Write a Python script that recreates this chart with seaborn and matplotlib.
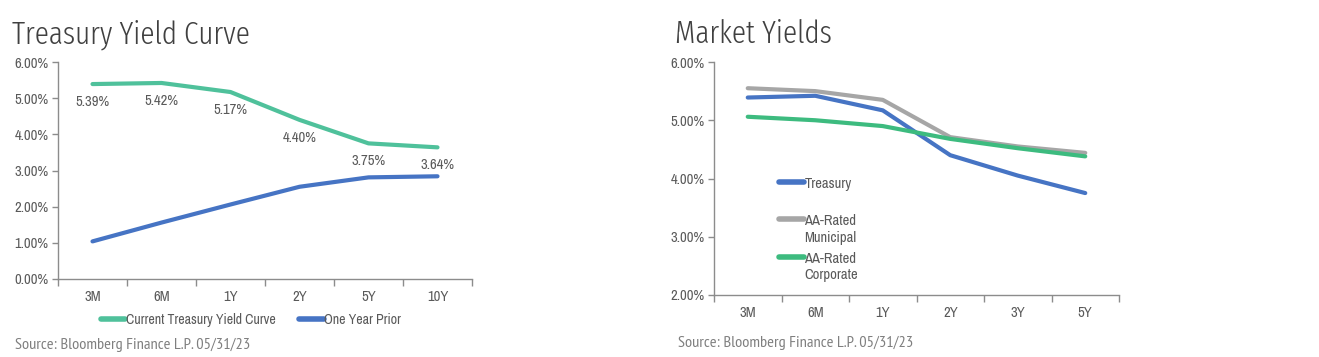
import matplotlib
matplotlib.use("Agg")
import matplotlib.pyplot as plt
import seaborn as sns
import pandas as pd
from matplotlib.ticker import FuncFormatter, FixedLocator

# ---- data ----
tenors_left = ["3M", "6M", "1Y", "2Y", "5Y", "10Y"]
current_curve = [5.39, 5.42, 5.17, 4.40, 3.75, 3.64]
one_year_prior = [1.04, 1.56, 2.06, 2.55, 2.81, 2.84]

tenors_right = ["3M", "6M", "1Y", "2Y", "3Y", "5Y"]
treasury = [5.39, 5.42, 5.17, 4.40, 4.05, 3.75]
municipal = [5.55, 5.50, 5.35, 4.71, 4.55, 4.44]
corporate = [5.06, 5.00, 4.90, 4.68, 4.52, 4.38]

left_names = ["Current Treasury Yield Curve", "One Year Prior"]
right_names = ["Treasury", "AA-Rated Municipal", "AA-Rated Corporate"]
right_legend_labels = ["Treasury\n", "AA-Rated\nMunicipal", "AA-Rated\nCorporate"]

sns.set_theme(style="white")
FONT = ["Archivo Narrow", "Roboto Condensed", "DejaVu Sans"]
TITLE_FONT = ["Fira Sans Extra Condensed", "Source Sans 3", "DejaVu Sans"]
SRC_FONT = ["PT Sans Narrow", "Fira Sans Extra Condensed", "DejaVu Sans"]
plt.rcParams["font.family"] = FONT

GREEN_L = "#4fc19b"
GREEN_R = "#3dbb7f"
BLUE = "#4674c4"
GREY = "#a6a6a6"
TXT = "#595959"
AXC = "#8c8c8c"
FS = 10.5

left_df = pd.DataFrame({
    "tenor": tenors_left * 2,
    "yield": current_curve + one_year_prior,
    "series": [left_names[0]] * 6 + [left_names[1]] * 6,
})
right_df = pd.DataFrame({
    "tenor": tenors_right * 3,
    "yield": treasury + municipal + corporate,
    "series": [right_names[0]] * 6 + [right_names[1]] * 6 + [right_names[2]] * 6,
})

fig = plt.figure(figsize=(13.19, 3.57), dpi=100)
ax1 = fig.add_axes([58 / 1319, 1 - 279 / 357, 414 / 1319, 217 / 357])
ax2 = fig.add_axes([714 / 1319, 1 - 295 / 357, 405 / 1319, 233 / 357])

sns.lineplot(data=left_df, x="tenor", y="yield", hue="series", sort=False,
             palette=[GREEN_L, BLUE], linewidth=3, ax=ax1, legend=True)
sns.lineplot(data=right_df, x="tenor", y="yield", hue="series", sort=False,
             palette=[BLUE, GREY, GREEN_R], linewidth=3, ax=ax2, legend=True,
             hue_order=right_names)

pct = FuncFormatter(lambda v, p: f"{v:.2f}%")

for ax, ylo, cats in [(ax1, 0, tenors_left), (ax2, 2, tenors_right)]:
    ax.set_xlim(-0.5, len(cats) - 0.5)
    ax.set_ylim(ylo, 6)
    ax.set_yticks(range(ylo, 7))
    ax.yaxis.set_major_formatter(pct)
    ax.set_xticks(range(len(cats)))
    ax.set_xticklabels(cats)
    ax.xaxis.set_minor_locator(FixedLocator([i - 0.5 for i in range(len(cats) + 1)]))
    ax.tick_params(axis="x", which="major", length=0, pad=8, labelsize=FS, labelcolor=TXT)
    ax.tick_params(axis="x", which="minor", length=5, width=1, color=AXC, direction="out", bottom=True)
    ax.tick_params(axis="y", length=4, width=1, color=AXC, direction="out", left=True,
                   labelsize=FS, labelcolor=TXT, pad=3)
    ax.set_xlabel("")
    ax.set_ylabel("")
    for s in ["top", "right"]:
        ax.spines[s].set_visible(False)
    for s in ["left", "bottom"]:
        ax.spines[s].set_color(AXC)
        ax.spines[s].set_linewidth(1)
    ax.patch.set_alpha(0)

# data labels on current curve
for i, v in enumerate(current_curve):
    ax1.annotate(f"{v:.2f}%", (i, v), xytext=(0, -18), textcoords="offset pixels",
                 ha="center", va="center", fontsize=FS, color=TXT)

# left legend (below)
h1, l1 = ax1.get_legend_handles_labels()
ax1.get_legend().remove()
leg1 = fig.legend(h1, l1, loc="center left", bbox_to_anchor=(101 / 1319, 1 - 320 / 357),
                  ncol=2, frameon=False, fontsize=10, handlelength=1.75, handletextpad=0.05,
                  columnspacing=1.7, borderpad=0, borderaxespad=0)
for t in leg1.get_texts():
    t.set_color(TXT)
for ln in leg1.get_lines():
    ln.set_linewidth(4)

# right legend (inside)
h2, _ = ax2.get_legend_handles_labels()
ax2.get_legend().remove()
leg2 = ax2.legend(h2, right_legend_labels, loc="upper left", bbox_to_anchor=(0.16, 0.507),
                  frameon=False, fontsize=FS, handlelength=1.7, handletextpad=0.05,
                  labelspacing=0.5, borderpad=0, borderaxespad=0)
for t in leg2.get_texts():
    t.set_color(TXT)
    t.set_linespacing(1.2)
for ln in leg2.get_lines():
    ln.set_linewidth(4)
for col in leg2._legend_handle_box.get_children():
    for hp in col.get_children():
        hp.align = "top"

# titles
t1 = fig.text(12 / 1319, 1 - 43 / 357, "Treasury Yield Curve", fontsize=26, color="#404040",
              va="baseline", ha="left", family=TITLE_FONT, fontweight=300)
t2 = fig.text(675 / 1319, 1 - 43 / 357, "Market Yields", fontsize=26, color="#404040",
              va="baseline", ha="left", family=TITLE_FONT, fontweight=300)
# sources
s1 = fig.text(15 / 1319, 1 - 349 / 357, "Source: Bloomberg Finance L.P. 05/31/23", fontsize=13,
              color="#7f7f7f", va="baseline", ha="left", family=SRC_FONT)
s2 = fig.text(678 / 1319, 1 - 347 / 357, "Source: Bloomberg Finance L.P. 05/31/23", fontsize=13,
              color="#7f7f7f", va="baseline", ha="left", family=SRC_FONT)

# fit title / source text widths to the reference widths
fig.canvas.draw()
r = fig.canvas.get_renderer()
for t, target in [(t1, 238), (s1, 232)]:
    w = t.get_window_extent(r).width
    t.set_fontsize(t.get_fontsize() * target / w)
t2.set_fontsize(t1.get_fontsize())
s2.set_fontsize(s1.get_fontsize())

fig.savefig("out.png", dpi=100, facecolor="white")
